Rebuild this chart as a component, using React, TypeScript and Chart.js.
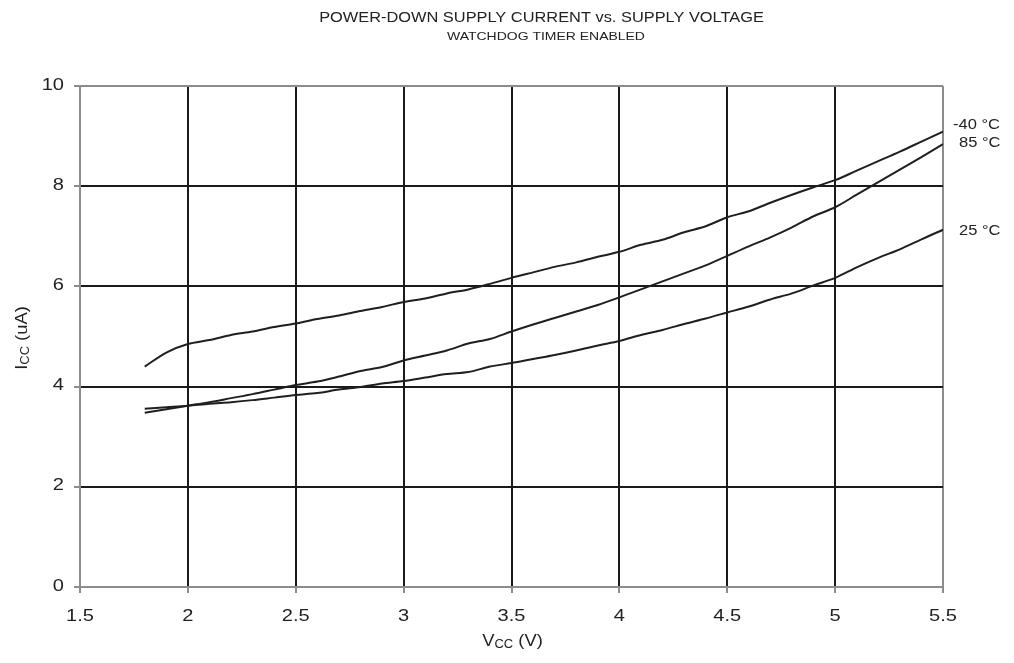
import React, { useEffect, useRef } from "react";
import { Chart, registerables } from "chart.js";

Chart.register(...registerables);

const voltages = [1.8,1.9,2.0,2.1,2.2,2.3,2.4,2.5,2.6,2.7,2.8,2.9,3.0,3.1,3.2,3.3,3.4,3.5,3.6,3.7,3.8,3.9,4.0,4.1,4.2,4.3,4.4,4.5,4.6,4.7,4.8,4.9,5.0,5.1,5.2,5.3,5.4,5.5];
const iccMinus40 = [4.40,4.68,4.85,4.93,5.03,5.10,5.19,5.26,5.35,5.42,5.51,5.59,5.69,5.76,5.86,5.94,6.05,6.17,6.28,6.39,6.48,6.59,6.69,6.83,6.93,7.08,7.20,7.38,7.50,7.67,7.83,7.98,8.12,8.31,8.50,8.69,8.89,9.09];
const icc85 = [3.48,3.55,3.62,3.69,3.77,3.85,3.94,4.03,4.10,4.20,4.31,4.39,4.52,4.62,4.72,4.86,4.95,5.10,5.24,5.37,5.50,5.63,5.78,5.94,6.10,6.26,6.42,6.61,6.80,6.98,7.18,7.40,7.58,7.83,8.08,8.33,8.58,8.84];
const icc25 = [3.56,3.59,3.62,3.66,3.69,3.73,3.78,3.83,3.87,3.94,3.99,4.06,4.11,4.18,4.25,4.29,4.40,4.47,4.55,4.63,4.72,4.82,4.91,5.03,5.13,5.25,5.36,5.48,5.60,5.74,5.86,6.02,6.17,6.38,6.57,6.74,6.94,7.13];
const seriesLabels = ["-40 °C", "85 °C", "25 °C"];
const titleText = "POWER-DOWN SUPPLY CURRENT vs. SUPPLY VOLTAGE";
const subtitleText = "WATCHDOG TIMER ENABLED";

const FONT = "'Liberation Sans', Arial, sans-serif";
const SX = 1.18;

function stretchText(ctx: any, text: string, x: number, y: number, size: number, align: string, sx = SX) {
  ctx.save();
  ctx.font = `${size}px ${FONT}`;
  ctx.translate(x, y);
  ctx.scale(sx, 1);
  ctx.textAlign = align;
  ctx.textBaseline = "middle";
  ctx.fillText(text, 0, 0);
  ctx.restore();
}

const annotPlugin = {
  id: "annot",
  afterDraw(chart: any) {
    const ctx = chart.ctx;
    const ca = chart.chartArea;
    ctx.save();
    ctx.fillStyle = "#222";

    stretchText(ctx, titleText, 541.5, 18, 14, "center", 1.17);
    stretchText(ctx, subtitleText, 546, 37, 11, "center", 1.27);

    // tick labels
    const xs = chart.scales.x;
    xs.ticks.forEach((t: any) => {
      stretchText(ctx, String(t.value), xs.getPixelForValue(t.value), 616, 17, "center");
    });
    const ys = chart.scales.y;
    ys.ticks.forEach((t: any) => {
      stretchText(ctx, String(t.value), 64, ys.getPixelForValue(t.value) - 1, 17, "right");
    });

    // series labels
    stretchText(ctx, seriesLabels[0], 953, 125, 14, "left");
    stretchText(ctx, seriesLabels[1], 959, 143.5, 14, "left");
    stretchText(ctx, seriesLabels[2], 959, 231, 14, "left");

    const drawSub = (x: number, y: number, main: string, sub: string, rest: string) => {
      ctx.save();
      ctx.translate(x, y);
      ctx.scale(1.08, 1);
      ctx.textBaseline = "middle";
      ctx.font = `17px ${FONT}`;
      const w1 = ctx.measureText(main).width;
      ctx.font = `12px ${FONT}`;
      const w2 = ctx.measureText(sub).width;
      ctx.font = `17px ${FONT}`;
      const w3 = ctx.measureText(rest).width;
      const total = w1 + w2 + w3;
      let cx = -total / 2;
      ctx.textAlign = "left";
      ctx.font = `17px ${FONT}`;
      ctx.fillText(main, cx, 0);
      cx += w1;
      ctx.font = `12px ${FONT}`;
      ctx.fillText(sub, cx, 4);
      cx += w2;
      ctx.font = `17px ${FONT}`;
      ctx.fillText(rest, cx, 0);
      ctx.restore();
    };
    drawSub((ca.left + ca.right) / 2 + 1, 641, "V", "CC", " (V)");
    ctx.save();
    ctx.translate(22, 338);
    ctx.rotate(-Math.PI / 2);
    drawSub(0, 0, "I", "CC", " (uA)");
    ctx.restore();
    ctx.restore();
  },
};

export default function App() {
  const ref = useRef<HTMLCanvasElement>(null);
  useEffect(() => {
    const mk = (label: string, ys: number[]) => ({
      label,
      data: voltages.map((v, i) => ({ x: v, y: ys[i] })),
      borderColor: "#1f1f1f",
      borderWidth: 2,
      pointRadius: 0,
      tension: 0.3,
      fill: false,
    });
    const chart = new Chart(ref.current!, {
      type: "line",
      data: {
        datasets: [mk(seriesLabels[0], iccMinus40), mk(seriesLabels[1], icc85), mk(seriesLabels[2], icc25)],
      },
      options: {
        animation: false,
        responsive: false,
        maintainAspectRatio: false,
        layout: { padding: { left: 0, top: 86, right: 71, bottom: 0 } },
        plugins: { legend: { display: false }, tooltip: { enabled: false }, title: { display: false } },
        scales: {
          x: {
            type: "linear",
            min: 1.5,
            max: 5.5,
            afterFit: (s: any) => { s.height = 76; },
            ticks: { stepSize: 0.5, display: false },
            grid: {
              color: (c: any) => (c.tick && (c.tick.value === 1.5 || c.tick.value === 5.5) ? "#8c8c8c" : "#1a1a1a"),
              tickColor: "#8c8c8c",
              lineWidth: 2,
              tickLength: 6,
            },
            border: { color: "#8c8c8c", width: 2 },
          },
          y: {
            type: "linear",
            min: 0,
            max: 10,
            afterFit: (s: any) => { s.width = 80; },
            ticks: { stepSize: 2, display: false },
            grid: {
              color: (c: any) => (c.tick && (c.tick.value === 0 || c.tick.value === 10) ? "#8c8c8c" : "#1a1a1a"),
              tickColor: "#8c8c8c",
              lineWidth: 2,
              tickLength: 6,
            },
            border: { color: "#8c8c8c", width: 2 },
          },
        },
      },
      plugins: [annotPlugin],
    } as any);
    return () => chart.destroy();
  }, []);
  return (
    <div style={{ position: "fixed", left: 0, top: 0, width: 1014, height: 663, background: "#fff" }}>
      <canvas ref={ref} width={1014} height={663} style={{ width: 1014, height: 663 }} />
    </div>
  );
}
